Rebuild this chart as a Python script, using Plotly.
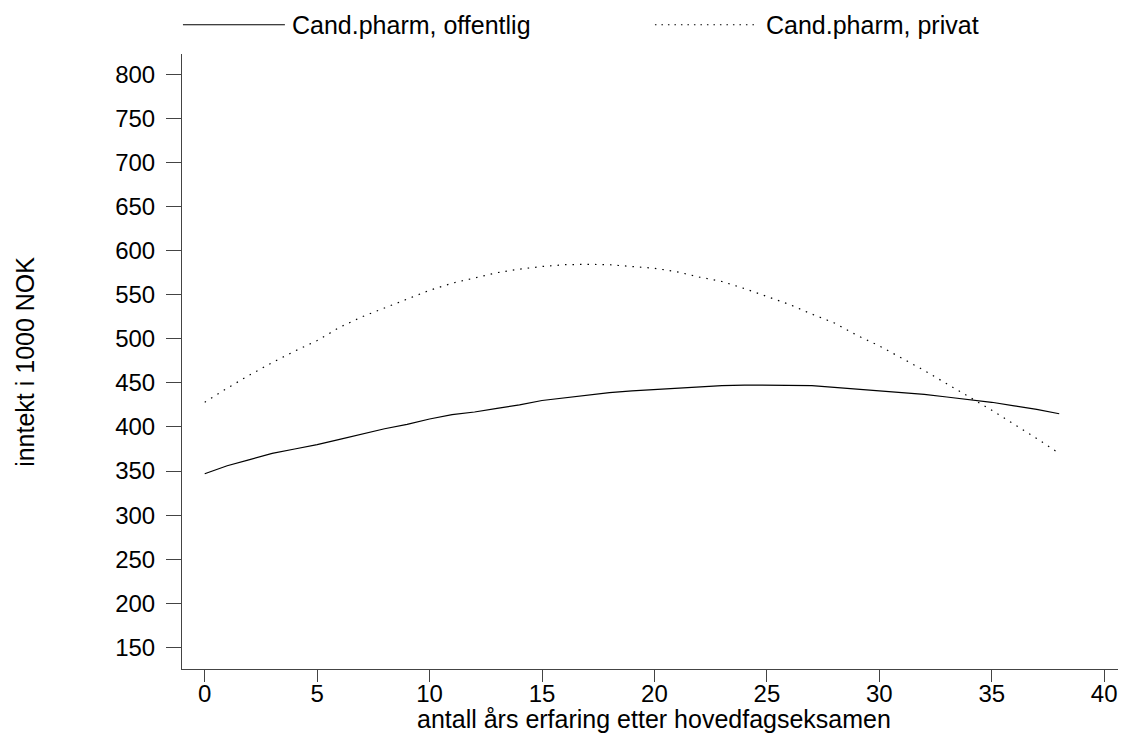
import plotly.graph_objects as go

years = list(range(39))
offentlig = [347, 356, 363, 370, 375, 380, 386, 392, 398, 403,
             409, 414, 417, 421, 425, 430, 433, 436, 439, 441,
             442.5, 444, 446, 447, 447.5, 447.5, 447.5, 447, 445, 443,
             441.5, 439, 437, 434, 431, 428, 424, 420, 415]
privat = [428, 444, 459, 473, 486, 498, 513, 525, 535, 545,
          555, 563, 569, 575, 579, 582, 584, 584.5, 584, 582,
          580, 576, 570, 565, 557, 548, 539, 528, 518, 504,
          492, 478, 464, 449, 434, 419, 403, 387, 370]
series_names = ["Cand.pharm, offentlig", "Cand.pharm, privat"]
x_ticks = [0, 5, 10, 15, 20, 25, 30, 35, 40]
y_ticks = [150, 200, 250, 300, 350, 400, 450, 500, 550, 600, 650, 700, 750, 800]
x_title = "antall års erfaring etter hovedfagseksamen"
y_title = "inntekt i 1000 NOK"

FONT = "Liberation Sans, Arial, sans-serif"
FS = 24
FS_TXT = 25
AX = "#444444"

fig = go.Figure()
fig.add_trace(go.Scatter(x=years, y=offentlig, mode="lines", name=series_names[0],
                         line=dict(color="black", width=1.2), showlegend=False))
fig.add_trace(go.Scatter(x=years, y=privat, mode="lines", name=series_names[1],
                         line=dict(color="black", width=1.2, dash="1.5px,6px"), showlegend=False))

# manual legend (paper coords)
leg_y = 1.0476
fig.add_shape(type="line", xref="paper", yref="paper", x0=0.001, x1=0.109, y0=leg_y, y1=leg_y,
              line=dict(color="black", width=1.2))
fig.add_shape(type="line", xref="paper", yref="paper", x0=0.501, x1=0.610, y0=leg_y, y1=leg_y,
              line=dict(color="black", width=1.2, dash="1.5px,5px"))
fig.add_annotation(text=series_names[0], xref="paper", yref="paper", x=0.1145, y=leg_y,
                   xanchor="left", yanchor="middle", showarrow=False,
                   font=dict(family=FONT, size=FS_TXT, color="black"))
fig.add_annotation(text=series_names[1], xref="paper", yref="paper", x=0.6166, y=leg_y,
                   xanchor="left", yanchor="middle", showarrow=False,
                   font=dict(family=FONT, size=FS_TXT, color="black"))

# axis titles
fig.add_annotation(text=x_title, xref="paper", yref="paper", x=0.5, y=-0.082,
                   xanchor="center", yanchor="middle", showarrow=False,
                   font=dict(family=FONT, size=FS_TXT, color="black"))
fig.add_annotation(text=y_title, xref="paper", yref="paper", x=-0.167, y=0.5, textangle=-90,
                   xanchor="center", yanchor="middle", showarrow=False,
                   font=dict(family=FONT, size=FS_TXT, color="black"))

# page body has an 8px margin; shrink the figure so the plot area lands where the reference has it
fig.update_layout(
    width=1118, height=727,
    margin=dict(l=174, r=0, t=46, b=66),
    paper_bgcolor="white", plot_bgcolor="white",
    font=dict(family=FONT, size=FS, color="black"),
    xaxis=dict(range=[-1.01, 40.97], tickvals=x_ticks, ticks="outside", ticklen=12,
               tickcolor=AX, tickwidth=1, showline=True, linecolor=AX, linewidth=1,
               showgrid=False, zeroline=False, tickfont=dict(family=FONT, size=FS),
               ticklabelstandoff=-9),
    yaxis=dict(range=[125.5, 823], tickvals=y_ticks, ticks="outside", ticklen=15,
               tickcolor=AX, tickwidth=1, showline=True, linecolor=AX, linewidth=1,
               showgrid=False, zeroline=False, tickfont=dict(family=FONT, size=FS),
               ticklabelstandoff=6),
)

fig.write_html("out.html")
